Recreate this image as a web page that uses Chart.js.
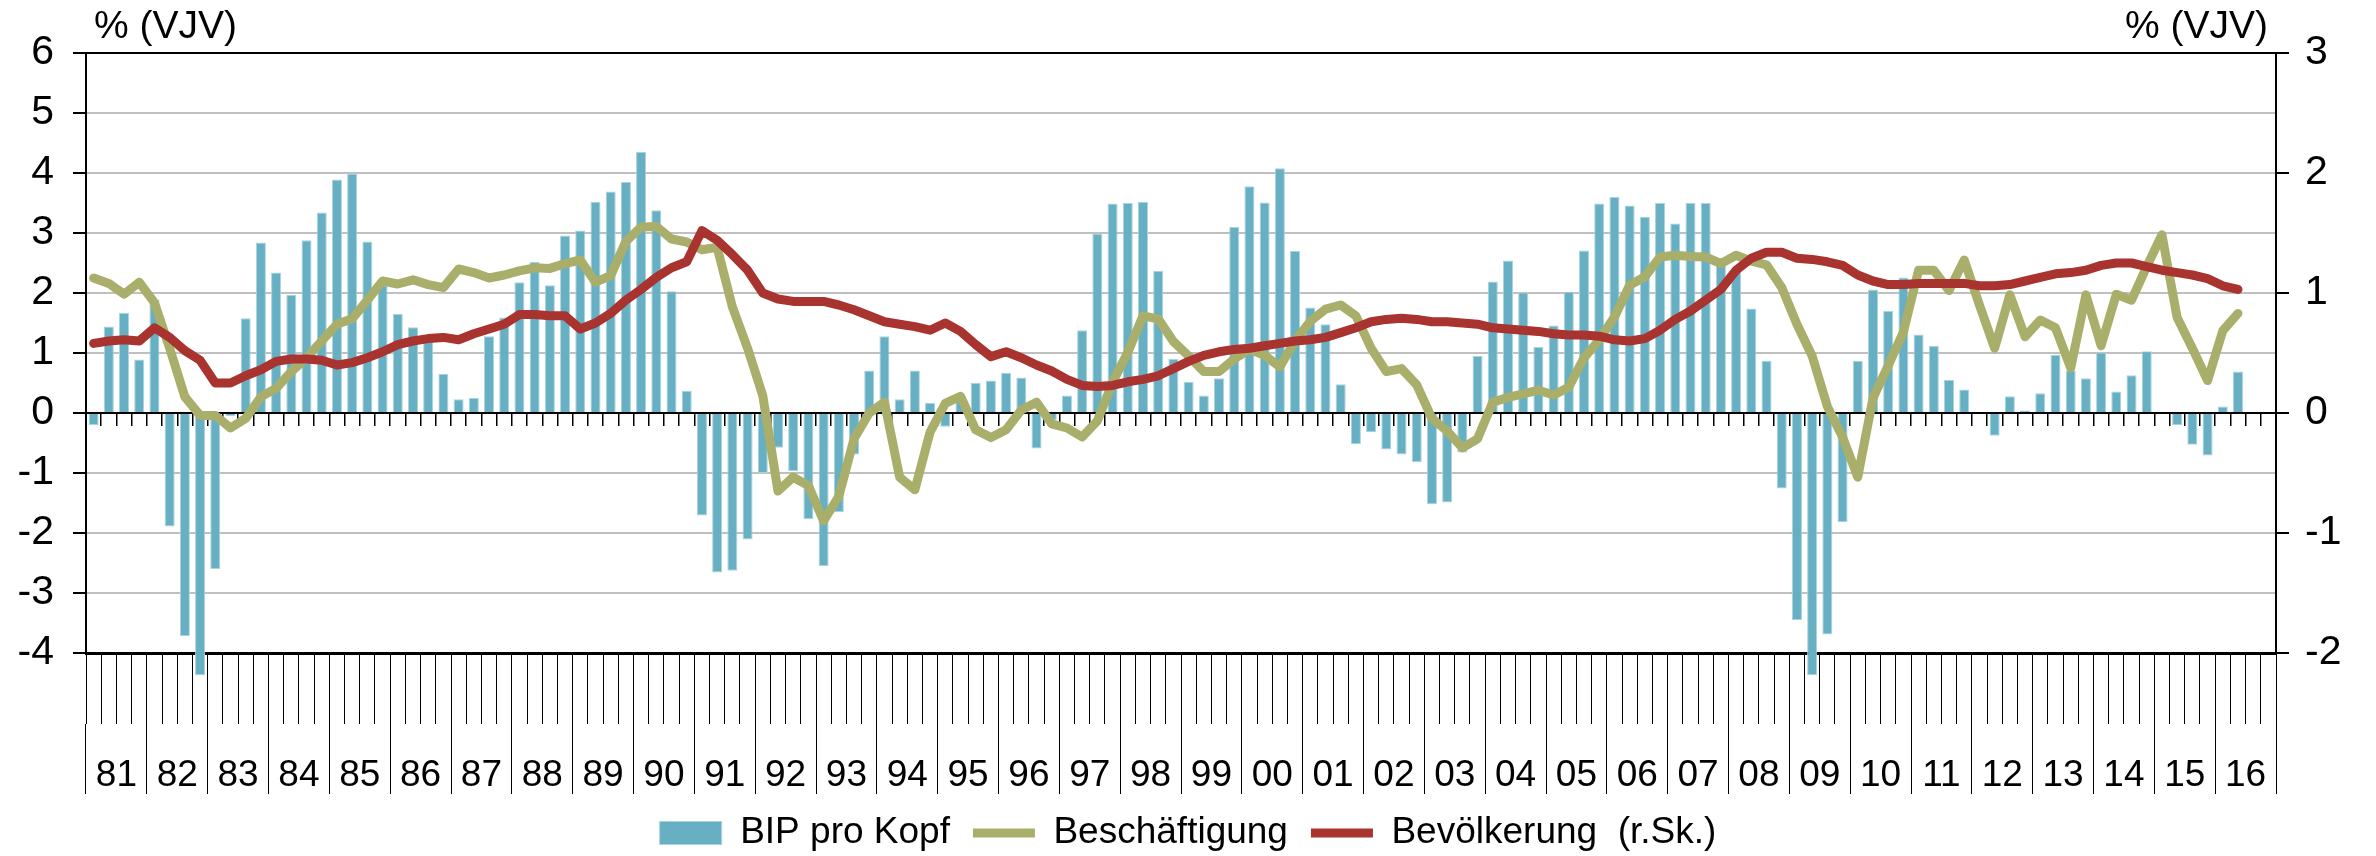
<!DOCTYPE html>
<html>
<head>
<meta charset="utf-8">
<script src="https://cdn.jsdelivr.net/npm/chart.js@4.4.1/dist/chart.umd.min.js"></script>
<style>
  html, body { margin: 0; padding: 0; background: #fff; }
  #wrap { width: 2376px; height: 856px; position: relative; }
</style>
</head>
<body>
<div id="wrap"><canvas id="chart"></canvas></div>
<script>
// Years on the axis (quarterly data, 1981 Q1 .. 2016 Q4)
const yearLabels = ['81','82','83','84','85','86','87','88','89','90','91','92','93','94','95','96','97','98',
                    '99','00','01','02','03','04','05','06','07','08','09','10','11','12','13','14','15','16'];
const quarterLabels = yearLabels.flatMap(y => ['Q1', 'Q2', 'Q3', 'Q4'].map(q => y + q));

const unitLabel = '% (VJV)';
const leftRange = [-4, 6];
const rightRange = [-2, 3];

// BIP pro Kopf, % VJV (bars, left axis)
const bipProKopf = [
  -0.2, 1.44, 1.67, 0.89, 1.89, -1.89, -3.72, -4.37, -2.6, -0.05,
  1.58, 2.84, 2.34, 1.97, 2.88, 3.34, 3.89, 3.99, 2.86, 2.13,
  1.65, 1.43, 1.28, 0.65, 0.23, 0.25, 1.28, 1.59, 2.18, 2.52,
  2.13, 2.96, 3.04, 3.52, 3.69, 3.85, 4.35, 3.38, 2.03, 0.37,
  -1.71, -2.66, -2.63, -2.11, -1.0, -0.58, -0.97, -1.77, -2.55, -1.65,
  -0.69, 0.71, 1.28, 0.23, 0.71, 0.17, -0.23, 0.25, 0.5, 0.54,
  0.67, 0.59, -0.59, -0.12, 0.29, 1.38, 2.99, 3.49, 3.5, 3.52,
  2.37, 0.9, 0.52, 0.29, 0.58, 3.1, 3.78, 3.51, 4.08, 2.7,
  1.76, 1.48, 0.48, -0.52, -0.32, -0.61, -0.69, -0.82, -1.52, -1.49,
  -0.66, 0.95, 2.19, 2.54, 2.01, 1.1, 1.46, 2.02, 2.71, 3.49,
  3.6, 3.46, 3.27, 3.5, 3.16, 3.5, 3.5, 2.58, 2.38, 1.74,
  0.87, -1.26, -3.45, -4.37, -3.69, -1.82, 0.87, 2.06, 1.7, 2.26,
  1.31, 1.12, 0.55, 0.39, 0, -0.38, 0.28, 0.04, 0.33, 0.97,
  0.71, 0.58, 1.01, 0.36, 0.63, 1.03, 0, -0.2, -0.53, -0.71,
  0.11, 0.69
];

// Beschäftigung, % VJV (line, left axis)
const beschaeftigung = [
  2.25, 2.16, 1.98, 2.18, 1.84, 1.08, 0.27, -0.04, -0.04, -0.25,
  -0.09, 0.27, 0.41, 0.69, 0.92, 1.2, 1.48, 1.57, 1.88, 2.2,
  2.15, 2.22, 2.14, 2.09, 2.4, 2.34, 2.25, 2.3, 2.37, 2.42,
  2.41, 2.49, 2.55, 2.18, 2.29, 2.86, 3.1, 3.11, 2.9, 2.85,
  2.72, 2.76, 1.77, 1.08, 0.29, -1.3, -1.07, -1.21, -1.8, -1.39,
  -0.43, 0.0, 0.18, -1.07, -1.28, -0.32, 0.16, 0.28, -0.28, -0.41,
  -0.28, 0.05, 0.18, -0.18, -0.25, -0.4, -0.13, 0.51, 1.01, 1.62,
  1.57, 1.19, 0.95, 0.69, 0.69, 0.9, 1.06, 0.96, 0.77, 1.2,
  1.53, 1.73, 1.8, 1.62, 1.08, 0.69, 0.74, 0.47, -0.09, -0.3,
  -0.58, -0.43, 0.18, 0.26, 0.32, 0.38, 0.3, 0.43, 0.92, 1.22,
  1.6, 2.13, 2.27, 2.6, 2.63, 2.61, 2.6, 2.49, 2.63, 2.53,
  2.47, 2.09, 1.48, 0.95, 0.11, -0.4, -1.07, 0.25, 0.79, 1.35,
  2.38, 2.38, 2.04, 2.55, 1.8, 1.08, 1.97, 1.27, 1.55, 1.42,
  0.75, 1.97, 1.12, 1.98, 1.88, 2.44, 2.97, 1.59, 1.08, 0.54,
  1.37, 1.66
];

// Bevölkerung, % VJV (line, right axis)
const bevoelkerung = [
  0.58, 0.6, 0.61, 0.6, 0.71, 0.63, 0.52, 0.44, 0.25, 0.25,
  0.31, 0.36, 0.43, 0.45, 0.45, 0.44, 0.4, 0.42, 0.46, 0.51,
  0.57, 0.6, 0.62, 0.63, 0.61, 0.66, 0.7, 0.74, 0.82, 0.82,
  0.81, 0.81, 0.7, 0.75, 0.83, 0.94, 1.03, 1.13, 1.21, 1.26,
  1.52, 1.44, 1.32, 1.19, 1.0, 0.95, 0.93, 0.93, 0.93, 0.9,
  0.86, 0.81, 0.76, 0.74, 0.72, 0.69, 0.75, 0.68, 0.57, 0.47,
  0.51, 0.46, 0.4, 0.35, 0.28, 0.23, 0.22, 0.23, 0.26, 0.28,
  0.31, 0.37, 0.43, 0.48, 0.51, 0.53, 0.54, 0.56, 0.58, 0.6,
  0.61, 0.63, 0.67, 0.71, 0.76, 0.78, 0.79, 0.78, 0.76, 0.76,
  0.75, 0.74, 0.71, 0.7, 0.69, 0.68, 0.66, 0.65, 0.65, 0.64,
  0.61, 0.6, 0.62, 0.69, 0.78, 0.85, 0.94, 1.03, 1.19, 1.29,
  1.34, 1.34, 1.29, 1.28, 1.26, 1.23, 1.15, 1.1, 1.07, 1.07,
  1.08, 1.08, 1.08, 1.08, 1.06, 1.06, 1.07, 1.1, 1.13, 1.16,
  1.17, 1.19, 1.23, 1.25, 1.25, 1.22, 1.19, 1.17, 1.15, 1.12,
  1.06, 1.03
];

const FONT = '"Liberation Sans", Arial, Helvetica, sans-serif';
Chart.defaults.font.family = FONT;
Chart.defaults.color = '#000';

// "% (VJV)" above both value axes
const unitTitles = {
  id: 'unitTitles',
  afterDraw(chart) {
    const { ctx, chartArea: a } = chart;
    ctx.save();
    ctx.font = '39px ' + FONT;
    ctx.fillStyle = '#000';
    ctx.textBaseline = 'middle';
    ctx.textAlign = 'left';
    ctx.fillText(unitLabel, a.left + 8, a.top - 26);
    ctx.textAlign = 'right';
    ctx.fillText(unitLabel, a.right - 8, a.top - 26);
    ctx.restore();
  }
};

const gridColor = (c) => {
  const v = c.tick.value;
  if (v === leftRange[1]) return '#000';
  if (v === 0) return '#000';
  if (v === leftRange[0]) return 'rgba(0,0,0,0)';
  return '#c0c0c0';
};

new Chart(document.getElementById('chart'), {
  type: 'bar',
  data: {
    labels: quarterLabels,
    datasets: [
      {
        label: 'BIP pro Kopf',
        data: bipProKopf,
        backgroundColor: '#67afc3',
        borderColor: '#a9d3de',
        borderWidth: 1,
        barPercentage: 0.66,
        categoryPercentage: 1.0,
        yAxisID: 'y',
        xAxisID: 'x',
        clip: false,
        order: 3,
        pointStyle: 'rect'
      },
      {
        type: 'line',
        label: 'Beschäftigung',
        data: beschaeftigung,
        borderColor: '#a9af6a',
        backgroundColor: '#a9af6a',
        borderWidth: 9,
        pointRadius: 0,
        tension: 0,
        borderJoinStyle: 'round',
        borderCapStyle: 'round',
        yAxisID: 'y',
        xAxisID: 'x',
        order: 2,
        pointStyle: 'line'
      },
      {
        type: 'line',
        label: 'Bevölkerung  (r.Sk.)',
        data: bevoelkerung,
        borderColor: '#a8332f',
        backgroundColor: '#a8332f',
        borderWidth: 9,
        pointRadius: 0,
        tension: 0,
        borderJoinStyle: 'round',
        borderCapStyle: 'round',
        yAxisID: 'y2',
        xAxisID: 'x',
        order: 1,
        pointStyle: 'line'
      }
    ]
  },
  options: {
    responsive: true,
    maintainAspectRatio: false,
    animation: false,
    layout: { padding: { top: 53, left: 0, right: 0, bottom: -5.5 } },
    plugins: {
      tooltip: { enabled: false },
      legend: {
        position: 'bottom',
        align: 'center',
        labels: {
          usePointStyle: true,
          pointStyleWidth: 62,
          boxHeight: 23,
          padding: 23,
          font: { size: 37 },
          color: '#000',
          sort: (a, b) => a.datasetIndex - b.datasetIndex
        }
      }
    },
    scales: {
      // value axis line (quarter ticks at 0)
      x: {
        type: 'category',
        position: { y: 0 },
        offset: true,
        grid: { offset: true, drawOnChartArea: false, drawTicks: true, tickLength: 12, color: '#000', lineWidth: 1.5 },
        border: { display: true, color: '#000', width: 2 },
        ticks: { display: false }
      },
      // quarter ticks under the plot
      xq: {
        type: 'category',
        labels: quarterLabels,
        position: 'bottom',
        offset: true,
        grid: { offset: true, drawOnChartArea: false, drawTicks: true, tickLength: 71, color: '#000', lineWidth: 1 },
        border: { display: true, color: '#000', width: 3 },
        ticks: { display: false },
        afterFit: (s) => { s.height = 71; }
      },
      // year labels
      xy: {
        type: 'category',
        labels: yearLabels,
        position: 'bottom',
        offset: true,
        grid: { offset: true, drawOnChartArea: false, drawTicks: true, tickLength: 70, color: '#000', lineWidth: 1 },
        border: { display: false },
        ticks: { autoSkip: false, maxRotation: 0, minRotation: 0, padding: -40, font: { size: 37 }, color: '#000' },
        afterFit: (s) => { s.height = 67.5; }
      },
      y: {
        position: 'left',
        min: leftRange[0],
        max: leftRange[1],
        ticks: { stepSize: 1, padding: 19, font: { size: 41 }, color: '#000' },
        grid: { color: gridColor, lineWidth: 2, tickColor: '#000', tickLength: 13, drawTicks: true },
        border: { display: true, color: '#000', width: 2 },
        afterFit: (s) => { s.width = 86; }
      },
      y2: {
        position: 'right',
        min: rightRange[0],
        max: rightRange[1],
        ticks: { stepSize: 1, padding: 16, font: { size: 41 }, color: '#000' },
        grid: { drawOnChartArea: false, tickColor: '#000', tickLength: 13, lineWidth: 2 },
        border: { display: true, color: '#000', width: 2 },
        afterFit: (s) => { s.width = 100; }
      }
    }
  },
  plugins: [unitTitles]
});
</script>
</body>
</html>
